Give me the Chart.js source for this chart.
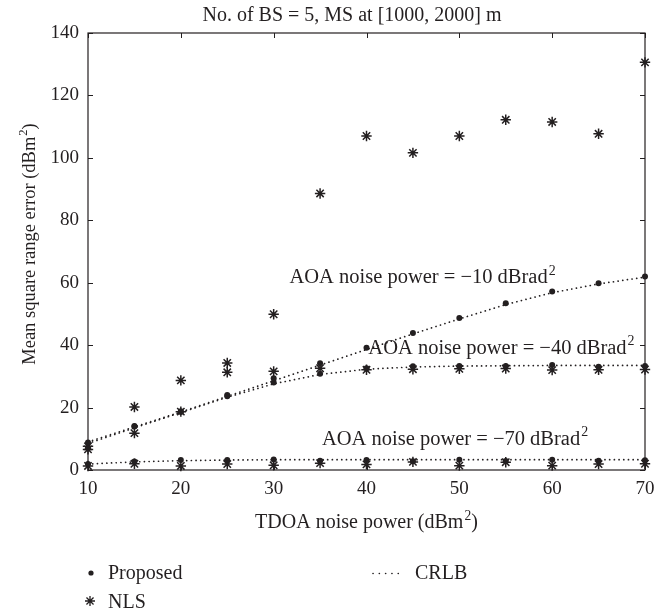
<!DOCTYPE html>
<html>
<head>
<meta charset="utf-8">
<script src="https://cdn.jsdelivr.net/npm/chart.js@4.4.0/dist/chart.umd.min.js"></script>
<style>
  html, body { margin: 0; padding: 0; background: #fff; }
  #wrap { width: 663px; height: 613px; }
</style>
</head>
<body>
<div id="wrap"><canvas id="myChart" width="663" height="613"></canvas></div>
<script>
// TDOA noise power (dBm^2) on the x axis
const tdoaPower = [10, 15, 20, 25, 30, 35, 40, 45, 50, 55, 60, 65, 70];

// AOA noise power = -10 dBrad^2
const proposed10 = [8.8, 14.1, 18.8, 24.0, 29.4, 34.2, 39.2, 43.9, 48.7, 53.4, 57.2, 59.8, 62.0];
const nls10      = [7.6, 20.2, 28.7, 34.3, 49.9, 88.6, 107.0, 101.6, 107.0, 112.2, 111.5, 107.7, 130.6];
const crlb10     = [9.0, 13.8, 18.6, 23.6, 28.6, 33.6, 38.6, 43.6, 48.4, 53.0, 56.8, 59.6, 61.8];

// AOA noise power = -40 dBrad^2
const proposed40 = [7.0, 13.9, 18.6, 23.6, 28.0, 30.8, 32.6, 33.2, 33.3, 33.3, 33.6, 33.1, 33.3];
const nls40      = [6.6, 11.8, 18.7, 31.3, 31.6, 32.6, 32.1, 32.3, 32.4, 32.5, 32.0, 32.1, 32.2];
const crlb40     = [8.5, 13.5, 18.4, 23.3, 27.6, 30.6, 32.3, 33.0, 33.3, 33.4, 33.5, 33.5, 33.5];

// AOA noise power = -70 dBrad^2
const proposed70 = [1.9, 2.7, 3.2, 3.2, 3.4, 3.0, 3.2, 2.8, 3.3, 2.9, 3.3, 3.0, 3.1];
const nls70      = [1.3, 2.0, 1.3, 1.9, 1.5, 2.2, 1.8, 2.6, 1.4, 2.5, 1.4, 1.9, 2.0];
const crlb70     = [1.9, 2.6, 3.0, 3.2, 3.3, 3.3, 3.3, 3.3, 3.3, 3.3, 3.3, 3.3, 3.3];

const xTicks = [10, 20, 30, 40, 50, 60, 70];
const yTicks = [0, 20, 40, 60, 80, 100, 120, 140];

const titleText = 'No. of BS = 5, MS at [1000, 2000] m';
const xTitle = ['TDOA noise power (dBm', '2', ')'];
const yTitle = ['Mean square range error (dBm', '2', ')'];
const curveLabels = [
  'AOA noise power = \u221210 dBrad',
  'AOA noise power = \u221240 dBrad',
  'AOA noise power = \u221270 dBrad'
];
const legendNames = ['Proposed', 'NLS', 'CRLB'];

const ink = '#231f20';
const serif = '"Liberation Serif", "DejaVu Serif", serif';

function pts(arr) {
  return tdoaPower.map(function (x, i) { return { x: x, y: arr[i] }; });
}

function crlbSet(arr) {
  return {
    data: pts(arr), showLine: true, pointRadius: 0, borderColor: ink,
    borderWidth: 1.7, borderDash: [0.1, 4.6], borderCapStyle: 'round',
    tension: 0, clip: false, order: 3
  };
}
function dotSet(arr) {
  return {
    data: pts(arr), showLine: false, pointStyle: 'circle', pointRadius: 3,
    pointBorderWidth: 0, backgroundColor: ink, borderColor: ink, clip: false, order: 1
  };
}
function starSet(arr) {
  return {
    data: pts(arr), showLine: false, pointStyle: 'star', pointRadius: 5.2,
    pointBorderWidth: 1.5, borderColor: ink, backgroundColor: ink, clip: false, order: 2
  };
}

// text with a superscript piece, returns total width
function supWidth(ctx, parts, size) {
  ctx.font = size + 'px ' + serif;
  let w = ctx.measureText(parts[0]).width;
  ctx.font = (size * 0.68) + 'px ' + serif;
  w += ctx.measureText(parts[1]).width + 1;
  if (parts[2]) {
    ctx.font = size + 'px ' + serif;
    w += ctx.measureText(parts[2]).width;
  }
  return w;
}
function drawSup(ctx, parts, x, y, size) {
  ctx.textAlign = 'left';
  ctx.textBaseline = 'alphabetic';
  ctx.font = size + 'px ' + serif;
  ctx.fillText(parts[0], x, y);
  x += ctx.measureText(parts[0]).width + 1;
  ctx.font = (size * 0.68) + 'px ' + serif;
  ctx.fillText(parts[1], x, y - size * 0.42);
  x += ctx.measureText(parts[1]).width;
  if (parts[2]) {
    ctx.font = size + 'px ' + serif;
    ctx.fillText(parts[2], x, y);
  }
}

function drawStar(ctx, x, y, r) {
  ctx.beginPath();
  for (let k = 0; k < 4; k++) {
    const a = k * Math.PI / 4;
    ctx.moveTo(x - r * Math.cos(a), y - r * Math.sin(a));
    ctx.lineTo(x + r * Math.cos(a), y + r * Math.sin(a));
  }
  ctx.stroke();
}

const framePlugin = {
  id: 'frame',
  beforeDatasetsDraw(chart) {
    const ctx = chart.ctx, a = chart.chartArea;
    const xs = chart.scales.x, ys = chart.scales.y;
    ctx.save();
    ctx.strokeStyle = ink;
    ctx.lineWidth = 1.2;
    ctx.strokeRect(a.left, a.top, a.right - a.left, a.bottom - a.top);
    ctx.lineWidth = 1;
    ctx.beginPath();
    xTicks.forEach(function (v) {
      const p = Math.round(xs.getPixelForValue(v)) + 0.5;
      ctx.moveTo(p, a.bottom); ctx.lineTo(p, a.bottom - 5);
      ctx.moveTo(p, a.top); ctx.lineTo(p, a.top + 5);
    });
    yTicks.forEach(function (v) {
      const p = Math.round(ys.getPixelForValue(v)) + 0.5;
      ctx.moveTo(a.left, p); ctx.lineTo(a.left + 5, p);
      ctx.moveTo(a.right, p); ctx.lineTo(a.right - 5, p);
    });
    ctx.stroke();
    ctx.restore();
  },
  afterDraw(chart) {
    const ctx = chart.ctx, a = chart.chartArea;
    const xs = chart.scales.x, ys = chart.scales.y;
    ctx.save();
    ctx.fillStyle = ink;
    ctx.strokeStyle = ink;

    // title
    ctx.font = '20px ' + serif;
    ctx.textAlign = 'center';
    ctx.textBaseline = 'alphabetic';
    ctx.fillText(titleText, 352, 21);

    // x axis title
    let w = supWidth(ctx, xTitle, 20);
    drawSup(ctx, xTitle, (a.left + a.right) / 2 - w / 2, 528, 20);

    // y axis title
    ctx.save();
    ctx.translate(35, 244);
    ctx.rotate(-Math.PI / 2);
    w = supWidth(ctx, yTitle, 18.5);
    drawSup(ctx, yTitle, -w / 2, 0, 18.5);
    ctx.restore();

    // labels on the curves
    const anchors = [[31.7, 59.8], [40.2, 37.3], [35.2, 8.1]];
    curveLabels.forEach(function (t, i) {
      drawSup(ctx, [t, '2'], xs.getPixelForValue(anchors[i][0]),
        ys.getPixelForValue(anchors[i][1]), 20.5);
    });

    // legend
    ctx.font = '20px ' + serif;
    ctx.textAlign = 'left';
    ctx.textBaseline = 'alphabetic';
    ctx.beginPath();
    ctx.arc(91, 573, 2.6, 0, Math.PI * 2);
    ctx.fill();
    ctx.fillText(legendNames[0], 108, 579);
    ctx.lineWidth = 1.3;
    drawStar(ctx, 90, 601, 5);
    ctx.fillText(legendNames[1], 108, 608);
    ctx.lineWidth = 1.6;
    ctx.lineCap = 'round';
    ctx.setLineDash([0.1, 6.2]);
    ctx.beginPath();
    ctx.moveTo(373, 573.5); ctx.lineTo(400, 573.5);
    ctx.stroke();
    ctx.setLineDash([]);
    ctx.fillText(legendNames[2], 415, 579);
    ctx.restore();
  }
};

const myChart = new Chart(document.getElementById('myChart'), {
  type: 'scatter',
  data: {
    datasets: [
      crlbSet(crlb10), crlbSet(crlb40), crlbSet(crlb70),
      starSet(nls10), starSet(nls40), starSet(nls70),
      dotSet(proposed10), dotSet(proposed40), dotSet(proposed70)
    ]
  },
  options: {
    responsive: false,
    animation: false,
    devicePixelRatio: 1,
    layout: { padding: { top: 33, right: 18, left: 0, bottom: 0 } },
    plugins: { legend: { display: false }, tooltip: { enabled: false }, title: { display: false } },
    scales: {
      x: {
        type: 'linear', min: 10, max: 70,
        afterBuildTicks: function (s) { s.ticks = xTicks.map(function (v) { return { value: v }; }); },
        afterFit: function (s) { s.height = 143; },
        grid: { display: false, drawTicks: false },
        border: { display: false },
        ticks: { padding: 8, color: ink, font: { family: serif, size: 19 }, maxRotation: 0 }
      },
      y: {
        type: 'linear', min: 0, max: 140,
        afterBuildTicks: function (s) { s.ticks = yTicks.map(function (v) { return { value: v }; }); },
        afterFit: function (s) { s.width = 88; },
        grid: { display: false, drawTicks: false },
        border: { display: false },
        ticks: { padding: 9, color: ink, font: { family: serif, size: 19 } }
      }
    }
  },
  plugins: [framePlugin]
});
</script>
</body>
</html>
